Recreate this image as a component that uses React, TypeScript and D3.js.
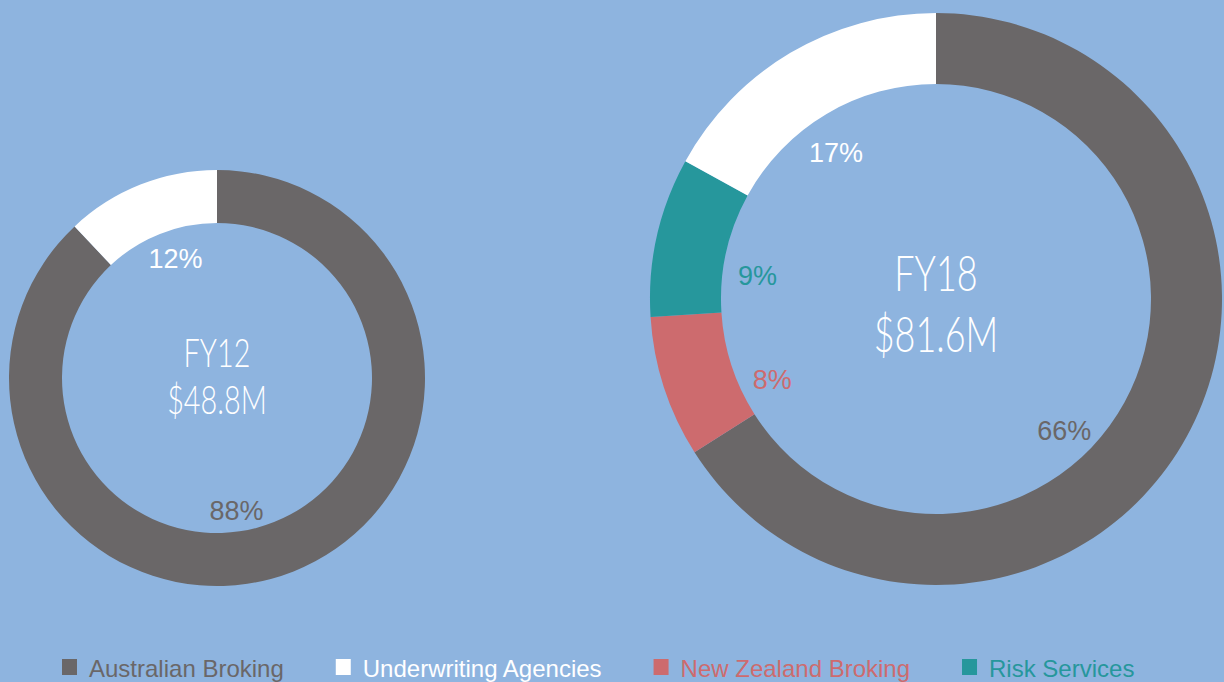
import React, { useEffect, useRef } from 'react';
import * as d3 from 'd3';

const segments = ['Australian Broking', 'Underwriting Agencies', 'New Zealand Broking', 'Risk Services'];
const segmentColors = ['#6a6768', '#ffffff', '#cd6b6e', '#26979c'];

// clockwise order from 12 o'clock, as drawn
const fy12Order = ['Australian Broking', 'Underwriting Agencies'];
const fy12Share = [88, 12];
const fy18Order = ['Australian Broking', 'New Zealand Broking', 'Risk Services', 'Underwriting Agencies'];
const fy18Share = [66, 8, 9, 17];

const years = ['FY12', 'FY18'];
const totals = ['$48.8M', '$81.6M'];

const W = 1224;
const H = 682;
const BG = '#8eb4df';

type Row = { name: string; value: number };

function App() {
  const ref = useRef<SVGSVGElement>(null);

  useEffect(() => {
    const svg = d3.select(ref.current);
    svg.selectAll('*').remove();
    const color = d3.scaleOrdinal<string, string>().domain(segments).range(segmentColors);

    // label nudges (degrees) copy the hand placement of the original slide
    const donuts = [
      { cx: 217, cy: 378, outer: 208, inner: 155, names: fy12Order, values: fy12Share, font: 40, l1: -11, l2: 36, nudge: [13, 3] },
      { cx: 936, cy: 299, outer: 286, inner: 215, names: fy18Order, values: fy18Share, font: 50, l1: -8, l2: 53, nudge: [16, -7, -4, -3] },
    ];

    donuts.forEach((dn, k) => {
      const g = svg.append('g').attr('transform', `translate(${dn.cx},${dn.cy})`);
      const rows: Row[] = dn.names.map((n, i) => ({ name: n, value: dn.values[i] }));
      const pie = d3.pie<Row>().sort(null).value(d => d.value);
      const arcs = pie(rows);
      const arc = d3.arc<d3.PieArcDatum<Row>>()
        .innerRadius(dn.inner)
        .outerRadius(dn.outer);
      g.selectAll('path.slice')
        .data(arcs)
        .enter()
        .append('path')
        .attr('class', 'slice')
        .attr('d', arc)
        .attr('fill', d => color(d.data.name));

      const lr = dn.inner * 0.84;
      const labelPos = (d: d3.PieArcDatum<Row>, i: number) => {
        const a = (d.startAngle + d.endAngle) / 2 + (dn.nudge[i] * Math.PI) / 180;
        return [Math.sin(a) * lr, -Math.cos(a) * lr];
      };
      g.selectAll('text.pct')
        .data(arcs)
        .enter()
        .append('text')
        .attr('class', 'pct')
        .attr('transform', (d, i) => `translate(${labelPos(d, i)})`)
        .attr('text-anchor', 'middle')
        .attr('dy', '0.5em')
        .style('font-family', '"Liberation Sans", Arial, sans-serif')
        .style('font-size', '27px')
        .attr('fill', d => color(d.data.name))
        .text(d => d.data.value + '%');

      const center = g.append('g').attr('transform', 'scale(0.72,1)');
      center.append('text')
        .attr('text-anchor', 'middle')
        .attr('y', dn.l1)
        .style('font-family', 'Lato, sans-serif')
        .style('font-weight', 300)
        .style('font-size', dn.font + 'px')
        .attr('fill', '#ffffff')
        .text(years[k]);
      center.append('text')
        .attr('text-anchor', 'middle')
        .attr('y', dn.l2)
        .style('font-family', 'Lato, sans-serif')
        .style('font-weight', 300)
        .style('font-size', dn.font + 'px')
        .attr('fill', '#ffffff')
        .text(totals[k]);
    });

    // legend, laid out left to right by measured text width
    const legend = svg.append('g').attr('transform', 'translate(62,677)');
    let x = 0;
    segments.forEach(name => {
      const item = legend.append('g').attr('transform', `translate(${x},0)`);
      item.append('rect')
        .attr('x', 0)
        .attr('y', -18)
        .attr('width', 15)
        .attr('height', 16)
        .attr('fill', color(name));
      const t = item.append('text')
        .attr('x', 27)
        .style('font-family', '"Liberation Sans", Arial, sans-serif')
        .style('font-size', '24px')
        .attr('fill', color(name))
        .text(name);
      const w = (t.node() as SVGTextElement).getComputedTextLength();
      x += 27 + w + 52;
    });
  }, []);

  return (
    <svg
      ref={ref}
      width={W}
      height={H}
      style={{ position: 'absolute', left: 0, top: 0, display: 'block', background: BG }}
    />
  );
}

export default App;
